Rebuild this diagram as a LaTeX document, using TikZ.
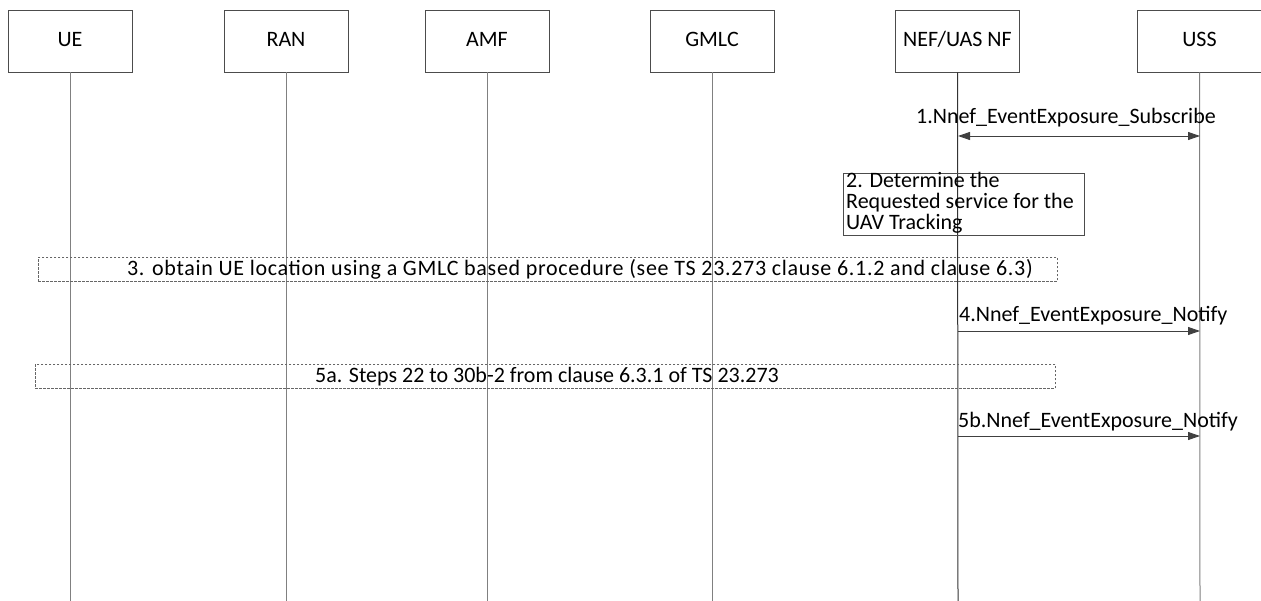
\documentclass[tikz,border=0pt]{standalone}
\usepackage{fontspec}
\setmainfont{Carlito}
\newfontfamily\widefont[LetterSpace=3.2]{Carlito}
\usetikzlibrary{arrows.meta}
\begin{document}
\begin{tikzpicture}[x=1pt,y=-1pt,
  font=\fontsize{22}{24}\selectfont,
  entity/.style={draw=black!70,line width=0.9pt,minimum width=124pt,minimum height=62pt,inner sep=0pt,text height=15pt,text depth=4pt},
  life/.style={draw=black!50,line width=1pt},
  msg/.style={draw=black!75,line width=0.9pt,-{Triangle[length=12pt,width=8pt]}},
  dmsg/.style={draw=black!75,line width=0.9pt,{Triangle[length=12pt,width=8pt]}-{Triangle[length=12pt,width=8pt]}},
  dbox/.style={draw=black!60,dashed,dash pattern=on 2.5pt off 1.5pt,line width=0.8pt,inner sep=0pt},
  lbl/.style={inner sep=0pt}]
\useasboundingbox (0,0) rectangle (1261,601);
% entities
\node[entity] (ue) at (70,41) {UE};
\node[entity] (ran) at (286,41) {RAN};
\node[entity] (amf) at (487,41) {AMF};
\node[entity] (gmlc) at (712,41) {GMLC};
\node[entity] (nef) at (957.5,41) {NEF/UAS NF};
\node[entity] (uss) at (1199.5,41) {USS};
% lifeline ends
\coordinate (ueE) at (70,601);
\coordinate (ranE) at (286,601);
\coordinate (amfE) at (487,601);
\coordinate (gmlcE) at (712,601);
\coordinate (nefE) at (958,601);
\coordinate (ussE) at (1200,601);
\draw[life] (ue.south) -- (ueE);
\draw[life] (ran.south) -- (ranE);
\draw[life] (amf.south) -- (amfE);
\draw[life] (gmlc.south) -- (gmlcE);
\draw[life,draw=black!80] (nef.south) -- (nefE);
\draw[life] (uss.south) -- (ussE);
% message 1
\coordinate (m1a) at (958,136);
\coordinate (m1b) at (1200,136);
\draw[dmsg] (m1a) -- (m1b);
\node[lbl,anchor=base] (l1) at (1066,124) {1.Nnef\_EventExposure\_Subscribe};
% step 2
\node[draw=black!70,line width=0.8pt,anchor=north west,minimum width=241pt,minimum height=62pt,inner sep=0pt] (s2) at (843,173) {};
\node[lbl,anchor=north west,align=left,font=\fontsize{22}{21}\selectfont] (s2t) at (846,172) {2. Determine the\\Requested service for the\\UAV Tracking};
% step 3
\node[dbox,anchor=north west,minimum width=1019pt,minimum height=24pt] (s3) at (38,257) {};
\node[lbl,anchor=base,font=\widefont\fontsize{22}{24}\selectfont] (s3t) at (580,276) {3. obtain UE location using a GMLC based procedure (see TS 23.273 clause 6.1.2 and clause 6.3)};
% message 4
\coordinate (m4a) at (958,331);
\coordinate (m4b) at (1200,331);
\draw[msg] (m4a) -- (m4b);
\node[lbl,anchor=base west] (l4) at (959,322) {4.Nnef\_EventExposure\_Notify};
% step 5a
\node[dbox,anchor=north west,minimum width=1020pt,minimum height=24pt] (s5a) at (35,364) {};
\node[lbl,anchor=base] (s5at) at (547,383) {5a. Steps 22 to 30b-2 from clause 6.3.1 of TS 23.273};
% message 5b
\coordinate (m5a) at (958,436);
\coordinate (m5b) at (1200,436);
\draw[msg] (m5a) -- (m5b);
\node[lbl,anchor=base west] (l5) at (958,428) {5b.Nnef\_EventExposure\_Notify};
\end{tikzpicture}
\end{document}
